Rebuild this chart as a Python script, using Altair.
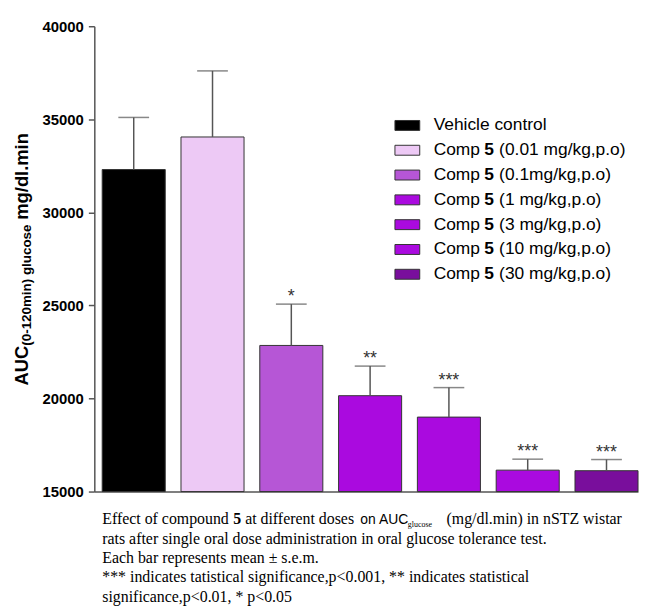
import altair as alt
import pandas as pd

# ---------------- data ----------------
groups = ["Vehicle control", "Comp 5 (0.01 mg/kg,p.o)", "Comp 5 (0.1mg/kg,p.o)",
          "Comp 5 (1 mg/kg,p.o)", "Comp 5 (3 mg/kg,p.o)", "Comp 5 (10 mg/kg,p.o)",
          "Comp 5 (30 mg/kg,p.o)"]
means = [32300, 34050, 22850, 20150, 19000, 16150, 16120]
sems = [2800, 3550, 2220, 1590, 1585, 590, 600]
stars = ["", "", "*", "**", "***", "***", "***"]
colors = ["#000000", "#EDC9F5", "#B656D6", "#AA0ADF", "#AA0ADF", "#AA0ADF", "#790E9C"]

legend_prefix = ["Vehicle control", "Comp", "Comp", "Comp", "Comp", "Comp", "Comp"]
legend_bold = ["", "5", "5", "5", "5", "5", "5"]
legend_suffix = ["", "(0.01 mg/kg,p.o)", "(0.1mg/kg,p.o)", "(1 mg/kg,p.o)",
                 "(3 mg/kg,p.o)", "(10 mg/kg,p.o)", "(30 mg/kg,p.o)"]

y_ticks = [15000, 20000, 25000, 30000, 35000, 40000]

caption_lines = [
    "rats after single oral dose administration in oral glucose tolerance test.",
    "Each bar represents mean \u00b1 s.e.m.",
    "*** indicates tatistical significance,p<0.001, ** indicates statistical",
    "significance,p<0.01, * p<0.05",
]
caption_first = ["Effect of compound", "5", "at different doses", "on", "AUC", "glucose",
                 "(mg/dl.min) in nSTZ wistar"]
ytitle_parts = ["AUC", "(0-120min) glucose", "mg/dl.min"]

# ---------------- layout constants ----------------
W, H = 548, 469
SANS = "Liberation Sans"
SERIF = "Liberation Serif"

df = pd.DataFrame({"group": groups, "mean": means, "sem": sems, "star": stars,
                   "color": colors})
df["top"] = df["mean"] + df["sem"]

xenc = alt.X("group:N", sort=groups,
             scale=alt.Scale(paddingInner=0.2, paddingOuter=0.05, align=1),
             axis=alt.Axis(labels=False, ticks=False, title=None, domainColor="#555555",
                           domainWidth=1.5))
yscale = alt.Scale(domain=[15000, 40000], zero=False, nice=False)

bars = alt.Chart(df).mark_bar(stroke="#333333", strokeWidth=1).encode(
    x=xenc,
    y=alt.Y("mean:Q", scale=yscale,
            axis=alt.Axis(values=y_ticks, format="d", title=None, grid=False,
                          labelFont=SANS, labelFontWeight="bold", labelFontSize=15,
                          labelColor="black", labelPadding=5, tickSize=6, tickWidth=1.5,
                          tickColor="#555555", domainColor="#555555", domainWidth=1.5)),
    y2=alt.datum(15000),
    color=alt.Color("color:N", scale=None),
)
rules = alt.Chart(df).mark_rule(color="#555555", strokeWidth=1.5).encode(
    x=alt.X("group:N", sort=groups), y="mean:Q", y2="top:Q")
caps = alt.Chart(df).mark_tick(color="#555555", thickness=1.5, size=31).encode(
    x=alt.X("group:N", sort=groups), y="top:Q")
star_marks = alt.Chart(df).mark_text(font=SANS, fontSize=18, color="#333333",
                                     baseline="alphabetic", dy=-2).encode(
    x=alt.X("group:N", sort=groups), y="top:Q", text="star:N")

main = alt.layer(bars, rules, caps, star_marks)

# ---------------- legend (custom, to allow bold "5") ----------------
ldf = pd.DataFrame({"idx": list(range(len(groups))), "prefix": legend_prefix,
                    "bold": legend_bold, "suffix": legend_suffix, "color": colors})
ldf["lo"] = ldf["idx"] - 0.2
ldf["hi"] = ldf["idx"] + 0.2
lscale = alt.Scale(domain=[0, 6], range=[100, 250])
swatch = alt.Chart(ldf).mark_rect(stroke="#333333", strokeWidth=1).encode(
    x=alt.value(303), x2=alt.value(328),
    y=alt.Y("lo:Q", scale=lscale, axis=None), y2="hi:Q",
    color=alt.Color("color:N", scale=None))
lt1 = alt.Chart(ldf).mark_text(align="left", baseline="middle", font=SANS,
                               fontSize=17.5, color="black").encode(
    x=alt.value(342), y=alt.Y("idx:Q", scale=lscale, axis=None), text="prefix:N")
lt2 = alt.Chart(ldf).mark_text(align="left", baseline="middle", font=SANS,
                               fontSize=17.5, fontWeight="bold", color="black").encode(
    x=alt.value(393), y=alt.Y("idx:Q", scale=lscale, axis=None), text="bold:N")
lt3 = alt.Chart(ldf).mark_text(align="left", baseline="middle", font=SANS,
                               fontSize=17.5, color="black").encode(
    x=alt.value(408), y=alt.Y("idx:Q", scale=lscale, axis=None), text="suffix:N")
legend = alt.layer(swatch, lt1, lt2, lt3)


def txt(s, x, y, **kw):
    return alt.Chart(pd.DataFrame({"t": [s]})).mark_text(
        align="left", baseline="alphabetic", color="black", **kw).encode(
        x=alt.value(x), y=alt.value(y), text="t:N")


# ---------------- y axis title (rotated, with subscript) ----------------
ytitle = [
    txt(ytitle_parts[0], -67, 362, angle=270, font=SANS, fontSize=18.5, fontWeight="bold"),
    txt(ytitle_parts[1], -63.5, 322, angle=270, font=SANS, fontSize=13.5, fontWeight="bold"),
    txt(ytitle_parts[2], -67, 195, angle=270, font=SANS, fontSize=18.5, fontWeight="bold"),
]

# ---------------- caption ----------------
cy0 = 502
cap = [
    txt(caption_first[0], 8, cy0, font=SERIF, fontSize=16),
    txt(caption_first[1], 140, cy0, font=SERIF, fontSize=16, fontWeight="bold"),
    txt(caption_first[2], 152, cy0, font=SERIF, fontSize=16),
    txt(caption_first[3], 268, cy0, font=SANS, fontSize=14),
    txt(caption_first[4], 287, cy0, font=SANS, fontSize=14),
    txt(caption_first[5], 316, cy0 + 3, font=SERIF, fontSize=8),
    txt(caption_first[6], 355, cy0, font=SERIF, fontSize=16),
]
for i, line in enumerate(caption_lines):
    cap.append(txt(line, 8, cy0 + 19.5 * (i + 1), font=SERIF, fontSize=16))

chart = alt.layer(main, legend, *ytitle, *cap).resolve_scale(y="independent").properties(
    width=W, height=H,
    autosize=alt.AutoSizeParams(type="none"),
    padding={"left": 87, "top": 16, "right": 3, "bottom": 116},
).configure_view(stroke=None)

chart.save("out.html", embed_options={"renderer": "svg", "actions": False})
